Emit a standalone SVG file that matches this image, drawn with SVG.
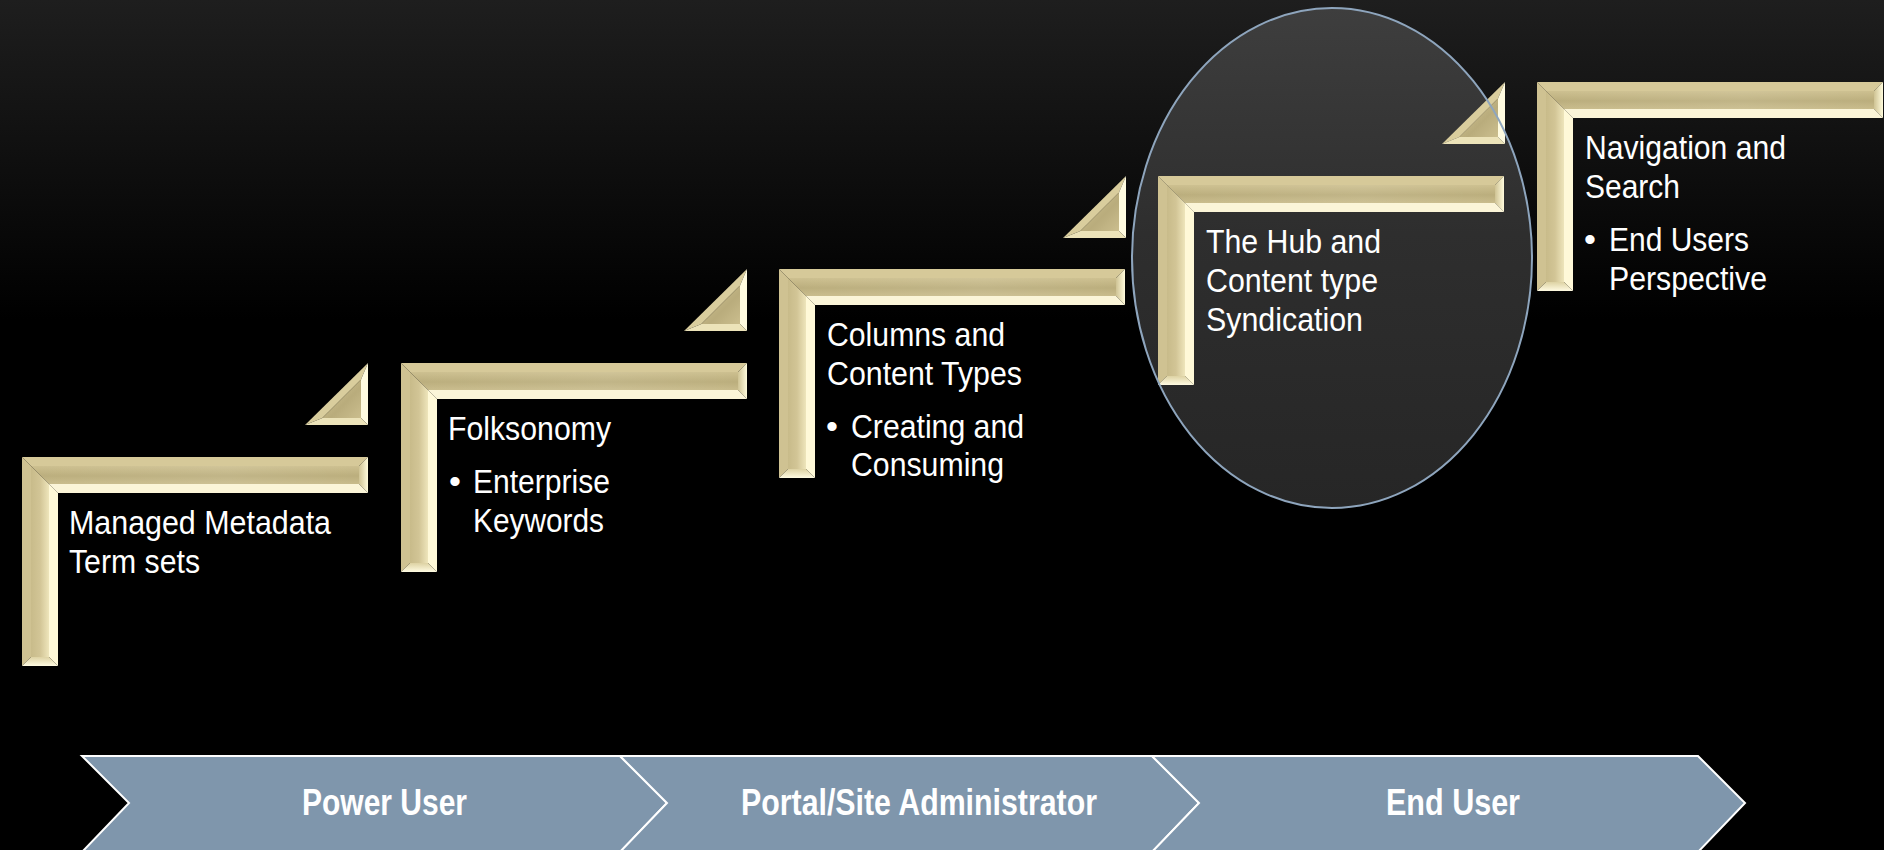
<svg xmlns="http://www.w3.org/2000/svg" xmlns:xlink="http://www.w3.org/1999/xlink" width="1884" height="850" viewBox="0 0 1884 850">
<style>
.t{font-family:"Liberation Sans",Arial,sans-serif;font-size:34px;fill:#ffffff}
.b{font-family:"Liberation Sans",Arial,sans-serif;font-size:37px;font-weight:bold;fill:#ffffff;text-anchor:middle}
.chev{fill:#7f96ac;stroke:#ffffff;stroke-width:2;stroke-linejoin:miter}
</style>
<defs>
<linearGradient id="bg" x1="0" y1="0" x2="0" y2="320" gradientUnits="userSpaceOnUse">
<stop offset="0" stop-color="#1e1e1e"/><stop offset="1" stop-color="#000000"/>
</linearGradient>
<linearGradient id="hub" x1="0" y1="0" x2="0" y2="1">
<stop offset="0" stop-color="#3e3e3e"/><stop offset="0.45" stop-color="#2e2e2e"/><stop offset="1" stop-color="#262626"/>
</linearGradient>
<linearGradient id="hbar" x1="0" y1="0" x2="0" y2="1">
<stop offset="0" stop-color="#cdc090"/><stop offset="0.55" stop-color="#bbae7d"/><stop offset="1" stop-color="#c9bc8c"/>
</linearGradient>
<linearGradient id="hbar2" x1="0" y1="0" x2="1" y2="0">
<stop offset="0" stop-color="#ffffff" stop-opacity="0"/><stop offset="0.6" stop-color="#ffffff" stop-opacity="0.08"/><stop offset="1" stop-color="#ffffff" stop-opacity="0"/>
</linearGradient>
<linearGradient id="vbar" x1="0" y1="0" x2="1" y2="0">
<stop offset="0" stop-color="#c8bb8a"/><stop offset="0.5" stop-color="#d2c596"/><stop offset="1" stop-color="#eee5bb"/>
</linearGradient>
<linearGradient id="rend" x1="0" y1="0" x2="1" y2="0">
<stop offset="0" stop-color="#cfc394"/><stop offset="1" stop-color="#fffbdc"/>
</linearGradient>
<linearGradient id="bend" x1="0" y1="0" x2="0" y2="1">
<stop offset="0" stop-color="#ddd2a3"/><stop offset="1" stop-color="#fffbe2"/>
</linearGradient>
<linearGradient id="tribody" x1="0" y1="0" x2="1" y2="1">
<stop offset="0" stop-color="#d2c595"/><stop offset="0.6" stop-color="#b9ac7c"/><stop offset="1" stop-color="#cbbe8e"/>
</linearGradient>
<g id="frame">
<polygon points="0,0 346,0 337,9 9,9" fill="#d6c999"/>
<polygon points="0,209 0,0 9,9 9,200" fill="#cfc292"/>
<polygon points="9,9 337,9 337,27 27,27" fill="url(#hbar)"/>
<polygon points="9,9 337,9 337,27 27,27" fill="url(#hbar2)"/>
<polygon points="9,9 27,27 27,200 9,200" fill="url(#vbar)"/>
<polygon points="346,0 346,36 337,27 337,9" fill="url(#rend)"/>
<polygon points="346,36 36,36 27,27 337,27" fill="#fbf5d8"/>
<polygon points="36,36 36,209 27,200 27,27" fill="#fff9d8"/>
<polygon points="36,209 0,209 9,200 27,200" fill="url(#bend)"/>
</g>
<g id="tri">
<polygon points="0,62 63,0 56,16.4 17.4,55" fill="#d9cd9d"/>
<polygon points="63,0 63,62 56,55 56,16.4" fill="#fffbe0"/>
<polygon points="63,62 0,62 17.4,55 56,55" fill="#ece3b9"/>
<polygon points="17.4,55 56,16.4 56,55" fill="url(#tribody)"/>
</g>
</defs>

<rect x="0" y="0" width="1884" height="850" fill="url(#bg)"/>

<g id="hub-highlight">
<ellipse cx="1332" cy="258" rx="200" ry="250" fill="url(#hub)"/>
</g>

<g id="connectors">
<use xlink:href="#tri" href="#tri" x="305" y="363"/>
<use xlink:href="#tri" href="#tri" x="684" y="269"/>
<use xlink:href="#tri" href="#tri" x="1063" y="176"/>
<use xlink:href="#tri" href="#tri" x="1442" y="82"/>
</g>

<g id="step1">
<use xlink:href="#frame" href="#frame" x="22" y="457"/>
<text class="t" x="69" y="534" textLength="262" lengthAdjust="spacingAndGlyphs">Managed Metadata</text>
<text class="t" x="69" y="573" textLength="131" lengthAdjust="spacingAndGlyphs">Term sets</text>
</g>

<g id="step2">
<use xlink:href="#frame" href="#frame" x="401" y="363"/>
<text class="t" x="448" y="440" textLength="163" lengthAdjust="spacingAndGlyphs">Folksonomy</text>
<text class="t" x="449" y="493">•</text>
<text class="t" x="473" y="493" textLength="137" lengthAdjust="spacingAndGlyphs">Enterprise</text>
<text class="t" x="473" y="532" textLength="131" lengthAdjust="spacingAndGlyphs">Keywords</text>
</g>

<g id="step3">
<use xlink:href="#frame" href="#frame" x="779" y="269"/>
<text class="t" x="827" y="346" textLength="178" lengthAdjust="spacingAndGlyphs">Columns and</text>
<text class="t" x="827" y="385" textLength="195" lengthAdjust="spacingAndGlyphs">Content Types</text>
<text class="t" x="826" y="438">•</text>
<text class="t" x="851" y="438" textLength="173" lengthAdjust="spacingAndGlyphs">Creating and</text>
<text class="t" x="851" y="476" textLength="153" lengthAdjust="spacingAndGlyphs">Consuming</text>
</g>

<g id="step4">
<use xlink:href="#frame" href="#frame" x="1158" y="176"/>
<text class="t" x="1206" y="253" textLength="175" lengthAdjust="spacingAndGlyphs">The Hub and</text>
<text class="t" x="1206" y="292" textLength="172" lengthAdjust="spacingAndGlyphs">Content type</text>
<text class="t" x="1206" y="331" textLength="157" lengthAdjust="spacingAndGlyphs">Syndication</text>
</g>

<g id="hub-outline">
<ellipse cx="1332" cy="258" rx="200" ry="250" fill="none" stroke="#8ea5bd" stroke-width="2"/>
</g>

<g id="step5">
<use xlink:href="#frame" href="#frame" x="1537" y="82"/>
<text class="t" x="1585" y="159" textLength="201" lengthAdjust="spacingAndGlyphs">Navigation and</text>
<text class="t" x="1585" y="198" textLength="95" lengthAdjust="spacingAndGlyphs">Search</text>
<text class="t" x="1584" y="251">•</text>
<text class="t" x="1609" y="251" textLength="140" lengthAdjust="spacingAndGlyphs">End Users</text>
<text class="t" x="1609" y="290" textLength="158" lengthAdjust="spacingAndGlyphs">Perspective</text>
</g>

<g id="role-power-user">
<polygon class="chev" points="82,756 620,756 667,803 620,852 82,852 129,803"/>
<text class="b" x="384.5" y="815" textLength="165" lengthAdjust="spacingAndGlyphs">Power User</text>
</g>
<g id="role-portal-admin">
<polygon class="chev" points="620,756 1152,756 1199,803 1152,852 620,852 667,803"/>
<text class="b" x="919" y="815" textLength="356" lengthAdjust="spacingAndGlyphs">Portal/Site Administrator</text>
</g>
<g id="role-end-user">
<polygon class="chev" points="1152,756 1698,756 1745,803 1698,852 1152,852 1199,803"/>
<text class="b" x="1453" y="815" textLength="134" lengthAdjust="spacingAndGlyphs">End User</text>
</g>
</svg>
